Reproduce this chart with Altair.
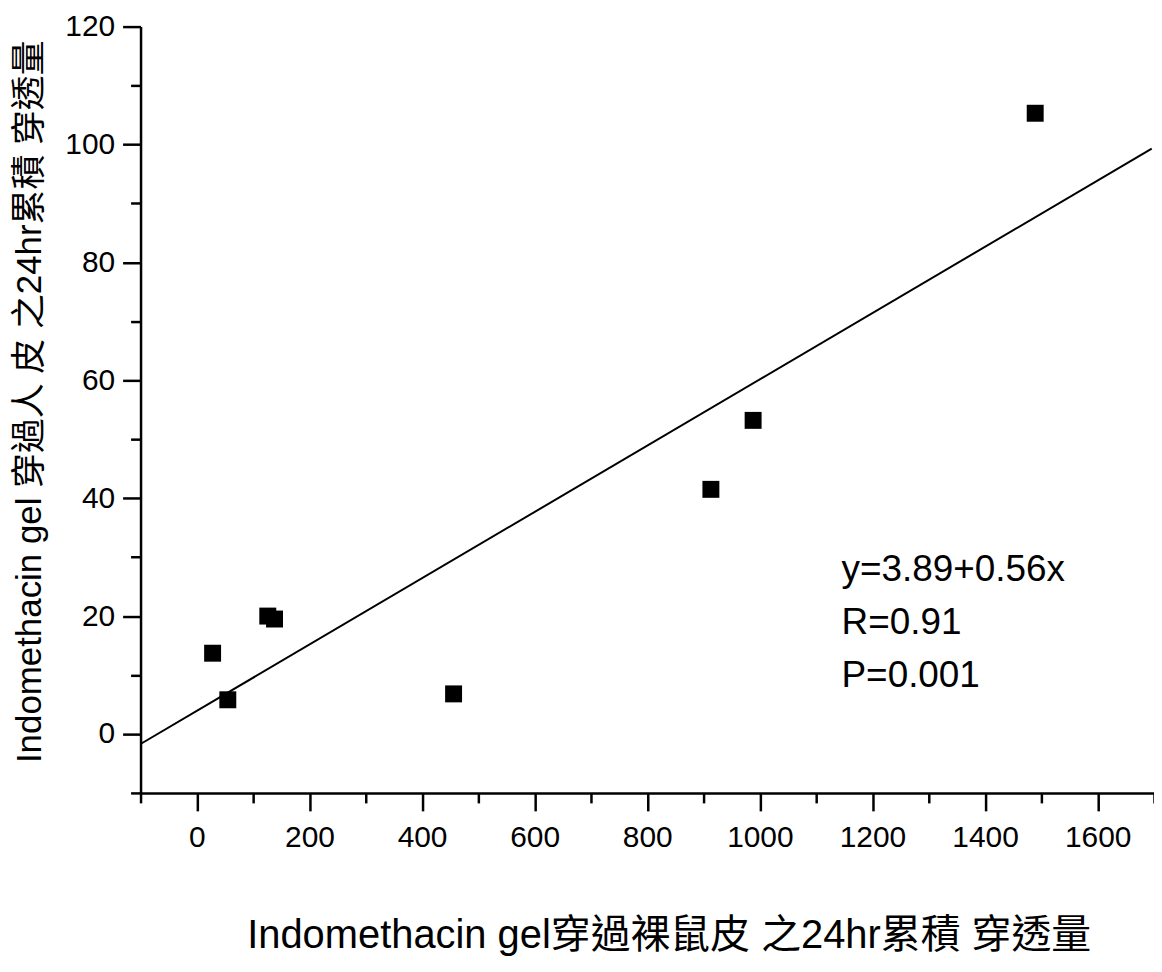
import altair as alt
import pandas as pd

# data
pt_x = [28, 55, 126, 138, 456, 913, 988, 1489]
pt_y = [13.7, 5.8, 20.0, 19.5, 6.8, 41.5, 53.2, 105.3]

# fitted line end points (y = 3.89 + 0.56x)
line_x = [-100, 1696]
line_y = [-1.7, 99.3]

ann_text = ["y=3.89+0.56x", "R=0.91", "P=0.001"]
ann_x = [1145, 1145, 1145]
ann_y = [25.9, 16.9, 7.9]

x_ticks = list(range(-100, 1701, 100))
y_ticks = list(range(-10, 121, 10))

x_title = "Indomethacin gel穿過裸鼠皮 之24hr累積 穿透量"
y_title = "Indomethacin gel 穿過人 皮 之24hr累積 穿透量"

FONT = "Liberation Sans, Arial, 'Noto Sans CJK TC', sans-serif"

pts = pd.DataFrame({"x": pt_x, "y": pt_y})
ln = pd.DataFrame({"x": line_x, "y": line_y})
ann = pd.DataFrame({"x": ann_x, "y": ann_y, "t": ann_text})

xaxis = alt.Axis(
    values=x_ticks,
    labelExpr="datum.value % 200 === 0 ? '' + datum.value : ''",
    tickSize={"condition": {"test": "datum.value % 200 === 0", "value": 18}, "value": 10},
    tickWidth=2.5, tickColor="black",
    domainWidth=2.5, domainColor="black",
    labelFont=FONT, labelFontSize=30, labelColor="black",
    labelPadding=12, labelOverlap=False, labelFlush=False,
    grid=False,
    title=x_title, titleFont=FONT, titleFontSize=40, titleFontWeight="normal",
    titleColor="black", titleX=530, titleY=155, titleBaseline="alphabetic",
    titleAnchor="middle",
)
yaxis = alt.Axis(
    values=y_ticks,
    labelExpr="datum.value % 20 === 0 ? '' + datum.value : ''",
    tickSize={"condition": {"test": "datum.value % 20 === 0", "value": 18}, "value": 10},
    tickWidth=2.5, tickColor="black",
    domainWidth=2.5, domainColor="black",
    labelFont=FONT, labelFontSize=30, labelColor="black",
    labelPadding=8, labelOverlap=False, labelFlush=False,
    grid=False,
    title=y_title, titleFont=FONT, titleFontSize=35, titleFontWeight="normal",
    titleColor="black", titleX=-100, titleY=376, titleBaseline="alphabetic",
    titleAnchor="middle",
)

xenc = alt.X("x:Q", scale=alt.Scale(domain=[-100, 1700], nice=False, zero=False), axis=xaxis)
yenc = alt.Y("y:Q", scale=alt.Scale(domain=[-10, 120], nice=False, zero=False), axis=yaxis)

points = alt.Chart(pts).mark_square(size=289, color="black", opacity=1).encode(x=xenc, y=yenc)
line = alt.Chart(ln).mark_line(color="black", strokeWidth=2).encode(x=xenc, y=yenc)
text = alt.Chart(ann).mark_text(
    align="left", baseline="alphabetic", font=FONT, fontSize=37, color="black"
).encode(x=xenc, y=yenc, text="t:N")

chart = (
    alt.layer(line, points, text)
    .properties(
        width=1017,
        height=769,
        padding={"left": 133, "top": 17, "right": 0, "bottom": 166},
        autosize=alt.AutoSizeParams(type="none"),
        background="white",
    )
    .configure_view(stroke=None)
)

chart.save("out.html", embed_options={"renderer": "svg", "actions": False})
